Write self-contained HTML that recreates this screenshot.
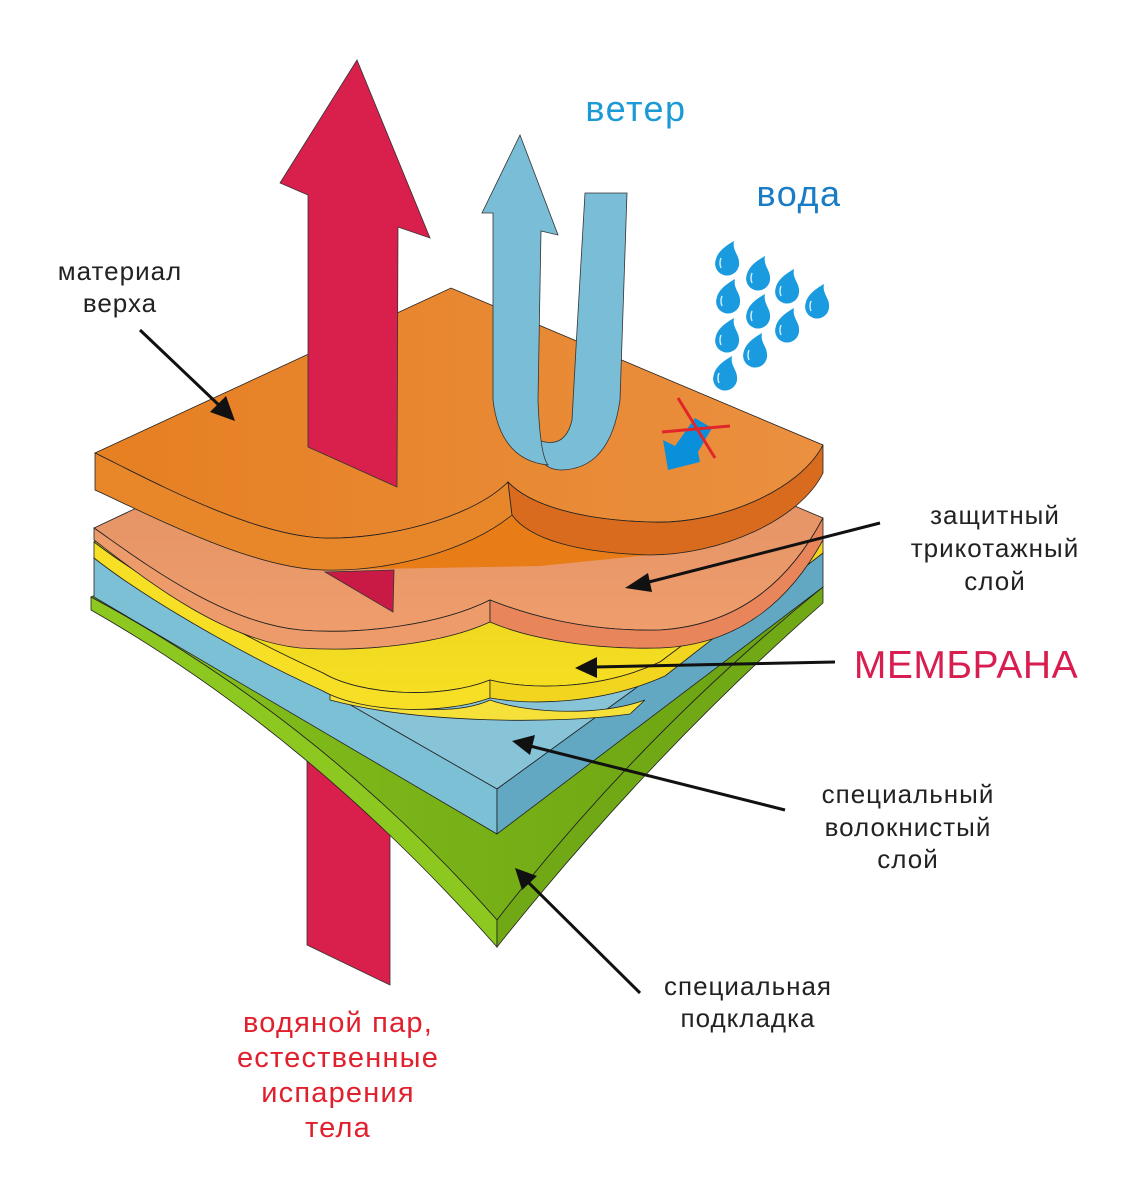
<!DOCTYPE html>
<html><head><meta charset="utf-8"><style>
html,body{margin:0;padding:0;background:#fff;}
svg{display:block;}
text{font-family:"Liberation Sans",Arial,sans-serif;}
</style></head><body>
<svg width="1136" height="1200" viewBox="0 0 1136 1200" xmlns="http://www.w3.org/2000/svg">
<defs>
<linearGradient id="og" x1="0" y1="0" x2="1" y2="0"><stop offset="0" stop-color="#e67f22"/><stop offset="1" stop-color="#ea9040"/></linearGradient>
<linearGradient id="gg" x1="0" y1="0" x2="1" y2="0"><stop offset="0" stop-color="#86c21c"/><stop offset="1" stop-color="#6aa012"/></linearGradient>
<linearGradient id="yg" x1="0" y1="0" x2="0" y2="1"><stop offset="0" stop-color="#d9c21c"/><stop offset="1" stop-color="#f6df22"/></linearGradient>
<linearGradient id="pg" x1="0" y1="0" x2="0" y2="1"><stop offset="0" stop-color="#d98a60"/><stop offset="1" stop-color="#ef9d6c"/></linearGradient>
<g id="drop"><path d="M7,-17 C5,-8 12,-3 12,4 A12,12 0 1 1 -11,1 C-9,-7 0,-13 7,-17 Z" fill="#1a9be0"/><path d="M-6,0 Q-8,5 -6,10" stroke="#cfeaf8" stroke-width="1.5" fill="none"/></g>
</defs>

<polygon points="307,690 390,690 390,985 307,945" fill="#d91f4b" stroke="#333" stroke-width="0.8"/>

<path d="M91,597 L451,430 L823,587 Q640,735 497,920 Q320,720 91,597 Z" fill="url(#gg)" stroke="#222" stroke-width="0.8"/>
<path d="M91,597 Q320,720 497,920 L497,947 Q310,735 91,610 Z" fill="#8cc820" stroke="#222" stroke-width="0.8"/>
<path d="M497,920 Q640,735 823,587 L823,603 Q650,755 497,947 Z" fill="#70a816" stroke="#222" stroke-width="0.8"/>

<path d="M94,558 L451,400 L823,552 L497,789 Z" fill="#88c4d8" stroke="#222" stroke-width="0.8"/>
<path d="M94,558 L497,789 L497,834 L94,597 Z" fill="#7cc0d6" stroke="#222" stroke-width="0.8"/>
<path d="M497,789 L823,552 L823,587 L497,834 Z" fill="#62a8c2" stroke="#222" stroke-width="0.8"/>

<path d="M330,690 C400,714 460,714 490,700 C530,714 600,716 645,700 L630,714 C560,724 420,724 330,700 Z" fill="#f6e03a" stroke="#222" stroke-width="0.8"/>
<path d="M94,542 L451,380 L823,540 L660,662 C600,690 530,690 490,680 C440,700 360,695 323,673 C250,640 150,585 94,542 Z" fill="url(#yg)" stroke="#222" stroke-width="0.8"/>
<path d="M94,542 C150,585 250,640 323,673 C360,695 440,700 490,680 L490,698 C440,716 360,712 323,691 C250,658 150,602 94,558 Z" fill="#f6df24" stroke="#222" stroke-width="0.8"/>
<path d="M490,680 C530,690 600,690 660,662 L823,540 L823,553 L665,676 C600,705 530,705 490,698 Z" fill="#f2d51e" stroke="#222" stroke-width="0.8"/>

<path d="M94,528 L451,360 L823,518 C790,580 740,625 660,630 C580,632 520,612 490,600 C440,625 360,635 300,630 C220,622 140,560 94,528 Z" fill="url(#pg)" stroke="#222" stroke-width="0.8"/>
<path d="M94,528 C140,560 220,622 300,630 C360,635 440,625 490,600 L490,622 C440,645 360,652 300,648 C220,640 140,575 94,540 Z" fill="#ee9b6b" stroke="#222" stroke-width="0.8"/>
<path d="M490,600 C520,612 580,632 660,630 C740,625 790,580 823,518 L823,540 C790,600 740,645 660,648 C580,650 520,635 490,622 Z" fill="#e8855a" stroke="#222" stroke-width="0.8"/>

<polygon points="325,572 394,570 393,612" fill="#c81a45" stroke="#333" stroke-width="0.8"/>

<path d="M323,570 C390,572 470,550 512,515 C540,540 590,553 650,555 L540,566 Z" fill="#e87d17"/>
<path d="M95,453 L451,288 L823,445 C800,490 720,525 650,522 C580,520 530,505 508,482 C470,520 380,540 323,538 C250,535 150,480 95,453 Z" fill="url(#og)" stroke="#222" stroke-width="0.8"/>
<path d="M95,453 C150,480 250,535 323,538 C380,540 470,520 508,482 L512,515 C470,550 390,572 323,570 C250,568 150,515 95,490 Z" fill="#e8862a" stroke="#222" stroke-width="0.8"/>
<path d="M508,482 C530,505 580,520 650,522 C720,525 800,490 823,445 L823,473 C800,520 720,555 650,555 C580,553 530,540 512,515 Z" fill="#d96b1e" stroke="#222" stroke-width="0.8"/>

<polygon points="357,60 430,238 398,227 397,487 308,447 308,195 280,183" fill="#d91f4b" stroke="#333" stroke-width="0.8"/>

<path d="M585,193 L627,193 L620,400 Q610,470 560,470 Q535,468 538,440 Q565,450 572,420 L577,330 Z" fill="#7abdd6" stroke="#333" stroke-width="0.8"/>
<path d="M520,135 L558,235 L541,231 L538,400 Q540,455 548,465 Q500,460 493,400 L493,213 L482,213 Z" fill="#7abdd6" stroke="#333" stroke-width="0.8"/>

<polygon points="668,470 663,440 675,446 695,418 712,428 698,452 700,462" fill="#0a8fdb"/>
<line x1="662" y1="432" x2="730" y2="426" stroke="#e0262a" stroke-width="3"/>
<line x1="678" y1="398" x2="715" y2="458" stroke="#e0262a" stroke-width="3"/>

<use href="#drop" x="727" y="258"/><use href="#drop" x="758" y="273"/><use href="#drop" x="728" y="296"/>
<use href="#drop" x="787" y="286"/><use href="#drop" x="817" y="301"/><use href="#drop" x="758" y="311"/>
<use href="#drop" x="727" y="335"/><use href="#drop" x="787" y="325"/><use href="#drop" x="755" y="350"/>
<use href="#drop" x="725" y="373"/>

<g stroke="#111" stroke-width="3">
<line x1="140" y1="330" x2="222" y2="408"/>
<line x1="880" y1="523" x2="645" y2="583"/>
<line x1="835" y1="662" x2="595" y2="667"/>
<line x1="785" y1="810" x2="530" y2="746"/>
<line x1="640" y1="993" x2="528" y2="882"/>
</g>
<g fill="#111">
<polygon points="235,421 210,412 226,396"/>
<polygon points="625,588 648,573 652,592"/>
<polygon points="575,668 597,657 597,678"/>
<polygon points="512,741 535,735 530,755"/>
<polygon points="515,868 537,876 522,890"/>
</g>

<g fill="#222" font-size="26" text-anchor="middle" letter-spacing="1">
<text x="120" y="280">материал</text><text x="120" y="312">верха</text>
<text x="995" y="524">защитный</text><text x="995" y="557">трикотажный</text><text x="995" y="590">слой</text>
<text x="908" y="803">специальный</text><text x="908" y="836">волокнистый</text><text x="908" y="868">слой</text>
<text x="748" y="995">специальная</text><text x="748" y="1027">подкладка</text>
</g>
<text x="966" y="678" font-size="39" fill="#d81e50" text-anchor="middle" letter-spacing="0.5">МЕМБРАНА</text>
<text x="636" y="121" font-size="36" fill="#1b9ad6" text-anchor="middle" letter-spacing="1.5">ветер</text>
<text x="799" y="206" font-size="36" fill="#1a7cc4" text-anchor="middle" letter-spacing="1.5">вода</text>
<g fill="#e0202c" font-size="29" text-anchor="middle" letter-spacing="1.2">
<text x="338" y="1032">водяной пар,</text><text x="338" y="1067">естественные</text><text x="338" y="1102">испарения</text><text x="338" y="1137">тела</text>
</g>
</svg>
</body></html>
